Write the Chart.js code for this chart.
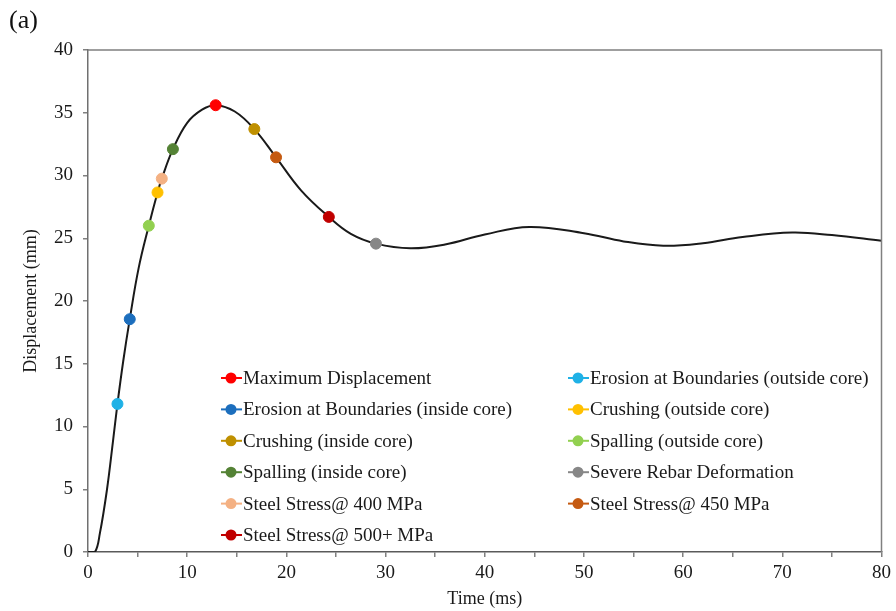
<!DOCTYPE html>
<html>
<head>
<meta charset="utf-8">
<script src="https://cdn.jsdelivr.net/npm/chart.js@4.4.1/dist/chart.umd.min.js"></script>
<style>
  html, body { margin: 0; padding: 0; background: #fff; }
</style>
</head>
<body>
<canvas id="chart" width="896" height="611"></canvas>
<script>
// curve: time (ms) vs displacement (mm)
const timeMs = [0, 0.7, 1.2, 1.9, 2.5, 2.97, 3.55, 4.21, 5.1, 6.13, 7.01, 7.44, 8.56, 10.0, 11.5, 12.87,
  14.8, 16.77, 18.96, 21.5, 24.28, 26.5, 29.03, 32.5, 36, 40, 44.5, 50, 54, 58, 62, 66, 71, 75, 80];
const displacement = [0, 0, 1.5, 4.9, 8.7, 11.8, 15.2, 18.55, 22.6, 26.0, 28.65, 29.75, 32.1, 34.2, 35.25, 35.6,
  35.1, 33.7, 31.45, 28.8, 26.7, 25.35, 24.57, 24.2, 24.5, 25.3, 25.9, 25.4, 24.75, 24.4, 24.6, 25.1, 25.45, 25.25, 24.8];

// damage events marked on the curve
const eventNames = [
  'Maximum Displacement', 'Erosion at Boundaries (outside core)',
  'Erosion at Boundaries (inside core)', 'Crushing (outside core)',
  'Crushing (inside core)', 'Spalling (outside core)',
  'Spalling (inside core)', 'Severe Rebar Deformation',
  'Steel Stress@ 400 MPa', 'Steel Stress@ 450 MPa',
  'Steel Stress@ 500+ MPa'
];
const eventTimes = [12.87, 2.97, 4.21, 7.01, 16.77, 6.13, 8.56, 29.03, 7.44, 18.96, 24.28];
const eventValues = [35.6, 11.8, 18.55, 28.65, 33.7, 26.0, 32.1, 24.57, 29.75, 31.45, 26.7];
const eventColors = ['#ff0000', '#1fb1e6', '#1c6ebd', '#ffc000', '#bf9000', '#92d050',
  '#548235', '#878787', '#f4b183', '#c55a11', '#c00000'];

const xTickValues = [0, 5, 10, 15, 20, 25, 30, 35, 40, 45, 50, 55, 60, 65, 70, 75, 80];
const xLabelValues = [0, 10, 20, 30, 40, 50, 60, 70, 80];
const yTickValues = [0, 5, 10, 15, 20, 25, 30, 35, 40];

const serif = "'Liberation Serif', 'Times New Roman', serif";

const datasets = eventNames.map((name, i) => ({
  label: name,
  data: [{ x: eventTimes[i], y: eventValues[i] }],
  backgroundColor: eventColors[i],
  borderColor: eventColors[i],
  pointRadius: 5.5,
  pointHoverRadius: 5.5,
  showLine: false,
  order: 0
}));
datasets.push({
  label: 'curve',
  data: timeMs.map((t, i) => ({ x: t, y: displacement[i] })),
  showLine: true,
  borderColor: '#1a1a1a',
  borderWidth: 2,
  pointRadius: 0,
  tension: 0.4,
  order: 1
});

// frame around plot, "(a)" tag, two-column legend inside the plot
const decor = {
  id: 'decor',
  afterDraw(chart) {
    const { ctx, chartArea: a } = chart;
    ctx.save();
    ctx.strokeStyle = '#808080';
    ctx.lineWidth = 1.5;
    ctx.beginPath();
    ctx.moveTo(a.left, a.top);
    ctx.lineTo(a.right, a.top);
    ctx.lineTo(a.right, a.bottom);
    ctx.stroke();

    ctx.fillStyle = '#111';
    ctx.font = '26px ' + serif;
    ctx.textBaseline = 'alphabetic';
    ctx.fillText('(a)', 9, 28);

    ctx.font = '19px ' + serif;
    ctx.textBaseline = 'middle';
    const colX = [a.left + 143, a.left + 490];
    const row0 = a.top + 328, rowH = 31.4;
    eventNames.forEach((name, i) => {
      const cx = colX[i % 2];
      const cy = row0 + Math.floor(i / 2) * rowH;
      ctx.strokeStyle = eventColors[i];
      ctx.lineWidth = 2;
      ctx.beginPath();
      ctx.moveTo(cx - 10, cy);
      ctx.lineTo(cx + 11, cy);
      ctx.stroke();
      ctx.fillStyle = eventColors[i];
      ctx.beginPath();
      ctx.arc(cx, cy, 5.5, 0, Math.PI * 2);
      ctx.fill();
      ctx.fillStyle = '#1a1a1a';
      ctx.fillText(name, cx + 12, cy + 1);
    });
    ctx.restore();
  }
};

const chart = new Chart(document.getElementById('chart'), {
  type: 'scatter',
  data: { datasets: datasets },
  options: {
    responsive: false,
    animation: false,
    layout: { padding: { left: 0, right: 14, top: 50, bottom: 0 } },
    plugins: {
      legend: { display: false },
      tooltip: { enabled: false }
    },
    scales: {
      x: {
        type: 'linear',
        min: 0,
        max: 80,
        afterBuildTicks: s => { s.ticks = xTickValues.map(v => ({ value: v })); },
        afterFit: s => { s.height = 59; },
        ticks: {
          autoSkip: false,
          maxRotation: 0,
          padding: 5,
          color: '#1a1a1a',
          font: { family: serif, size: 19 },
          callback: v => xLabelValues.includes(v) ? String(v) : ''
        },
        grid: { drawOnChartArea: false, tickLength: 5, color: '#808080', lineWidth: 1.5 },
        border: { color: '#5a5a5a', width: 1.5 },
        title: {
          display: true,
          text: 'Time (ms)',
          color: '#1a1a1a',
          font: { family: serif, size: 18 },
          padding: { top: 0, bottom: 1 }
        }
      },
      y: {
        type: 'linear',
        min: 0,
        max: 40,
        afterBuildTicks: s => { s.ticks = yTickValues.map(v => ({ value: v })); },
        afterFit: s => { s.width = 88; },
        ticks: {
          padding: 10,
          color: '#1a1a1a',
          font: { family: serif, size: 19 }
        },
        grid: { drawOnChartArea: false, tickLength: 5, color: '#808080', lineWidth: 1.5 },
        border: { color: '#707070', width: 1.5 },
        title: {
          display: true,
          text: 'Displacement (mm)',
          color: '#1a1a1a',
          font: { family: serif, size: 18 },
          padding: { top: 20, bottom: 0 }
        }
      }
    }
  },
  plugins: [decor]
});
</script>
</body>
</html>
